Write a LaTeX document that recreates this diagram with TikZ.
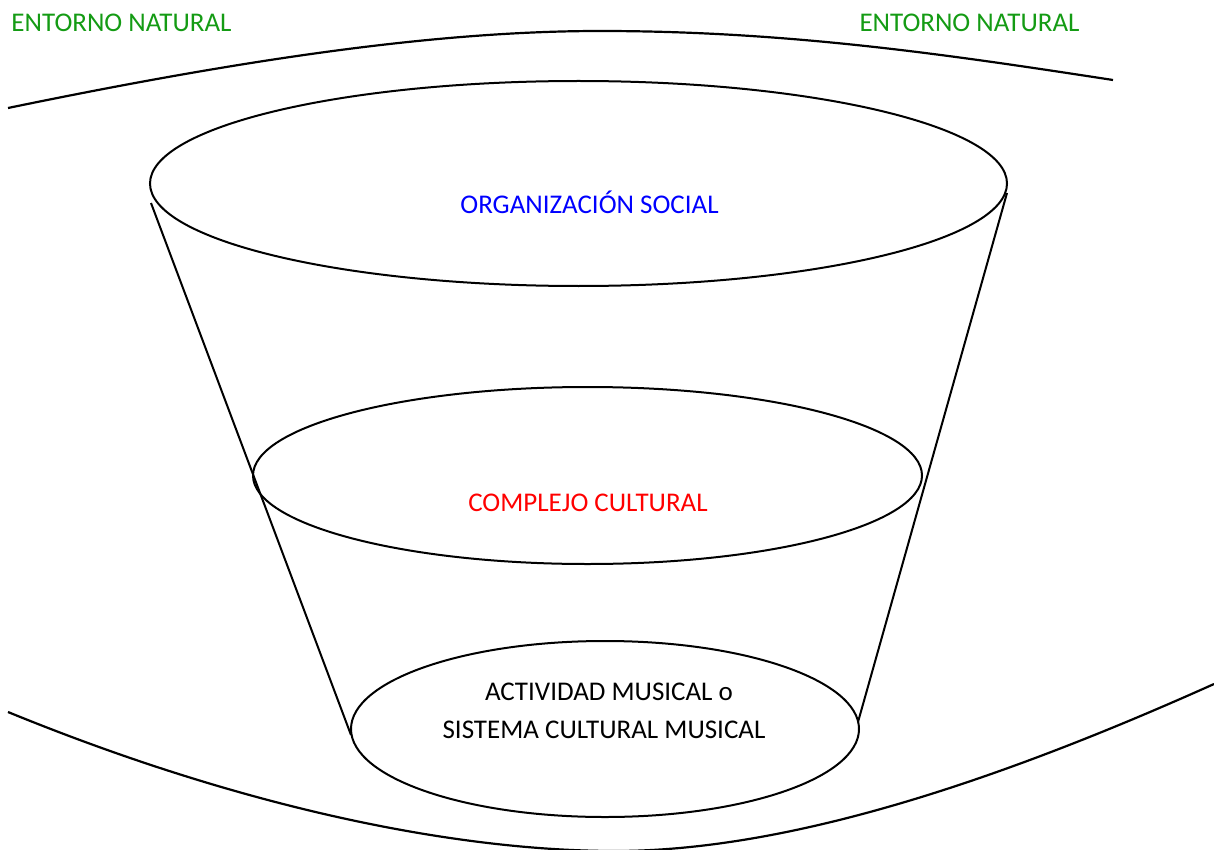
\documentclass[tikz,border=0pt]{standalone}
\usepackage{fontspec}
\setmainfont{Carlito}
\usetikzlibrary{shapes.geometric}
\definecolor{natgreen}{RGB}{20,155,20}
\begin{document}
\begin{tikzpicture}[x=1pt,y=1pt,
  curve/.style={line width=2.2pt,black},
  ring/.style={ellipse,draw,line width=2pt,inner sep=0pt},
  label/.style={font=\fontsize{27}{31}\selectfont,inner sep=0pt,anchor=base}]
\useasboundingbox (0,0) rectangle (1214,-850);

% outer boundaries of the natural environment
\coordinate (tl) at (8,-108);
\coordinate (tm) at (600,-31);
\coordinate (tr) at (1113,-80);
\draw[curve] (tl) .. controls (250,-58) and (440,-31) .. (tm)
             .. controls (790,-31) and (950,-55) .. (tr);
\coordinate (bl) at (8,-712);
\coordinate (bm) at (615,-851);
\coordinate (br) at (1214,-684);
\draw[curve] (bl) .. controls (260,-815) and (470,-851) .. (bm)
             .. controls (790,-851) and (1000,-780) .. (br);

% the three levels of the cone
\node[ring,minimum width=857pt,minimum height=205pt] (org) at (578.5,-183.5) {};
\node[ring,minimum width=669pt,minimum height=177pt] (cul) at (587.5,-475.5) {};
\node[ring,minimum width=508pt,minimum height=176pt] (mus) at (605,-729) {};

% sides of the cone
\coordinate (lt) at (151,-203);
\coordinate (lb) at (351,-735);
\coordinate (rt) at (1007,-193);
\coordinate (rb) at (858,-722);
\draw[curve,line width=2pt] (lt) -- (lb);
\draw[curve,line width=2pt] (rt) -- (rb);

% texts
\node[label,text=natgreen] (envL) at (121.5,-32) {ENTORNO NATURAL};
\node[label,text=natgreen] (envR) at (969.5,-32) {ENTORNO NATURAL};
\node[label,text=blue] (torg) at (589.5,-214) {ORGANIZACIÓN SOCIAL};
\node[label,text=red] (tcul) at (588,-511) {COMPLEJO CULTURAL};
\node[label] (tmus1) at (609,-700) {ACTIVIDAD MUSICAL o};
\node[label] (tmus2) at (604,-738) {SISTEMA CULTURAL MUSICAL};
\end{tikzpicture}
\end{document}
